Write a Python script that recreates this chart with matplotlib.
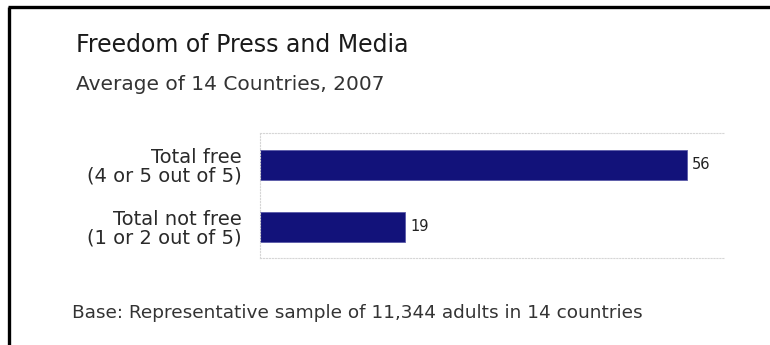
import matplotlib.pyplot as plt
from matplotlib.lines import Line2D

NAVY   = "#12127a"
TEXT_C = "#2a2a2a"
GRID_C = "#d6d6d6"

W, H = 770, 345

TITLE    = "Freedom of Press and Media"
SUBTITLE = "Average of 14 Countries, 2007"
FOOTNOTE = "Base: Representative sample of 11,344 adults in 14 countries"

categories = ["Total free\n(4 or 5 out of 5)", "Total not free\n(1 or 2 out of 5)"]
values     = [56, 19]

plt.rcParams.update({
    "font.family": ["DejaVu Sans"],
    "text.color":  TEXT_C,
})

fig = plt.figure(figsize=(W / 100, H / 100), dpi=100)
fig.patch.set_facecolor("white")

# heavy frame along the top and left edge
fig.add_artist(Line2D([9 / W, 9 / W], [0, 1 - 7 / H], transform=fig.transFigure,
                      color="black", linewidth=2.4, solid_capstyle="butt"))
fig.add_artist(Line2D([8 / W, 1], [1 - 7 / H, 1 - 7 / H], transform=fig.transFigure,
                      color="black", linewidth=2.4, solid_capstyle="butt"))

fig.text(76 / W, 1 - 52 / H, TITLE, fontsize=17, color="#1a1a1a", va="baseline")
fig.text(76 / W, 1 - 90 / H, SUBTITLE, fontsize=14.5, color="#333333", va="baseline")
fig.text(72 / W, 1 - 318 / H, FOOTNOTE, fontsize=13.3, color="#333333", va="baseline")

ax = fig.add_axes([260 / W, 1 - 258 / H, 465 / W, 125 / H])
ypos = list(range(len(values)))
ax.barh(ypos, values, height=0.48, color=NAVY, edgecolor="#5a5aa8", linewidth=0.6)

for y, v in zip(ypos, values):
    ax.text(v + 0.7, y, f"{v}", va="center", ha="left", fontsize=10.5, color="#222222")

ax.set_xlim(0, 61)
ax.set_ylim(1.5, -0.516)
ax.set_yticks(ypos)
ax.set_yticklabels(categories, fontsize=14, color=TEXT_C,
                   multialignment="right", linespacing=0.95)
ax.tick_params(axis="y", length=0, pad=13)
ax.set_xticks([])

for side in ["top", "bottom", "left"]:
    ax.spines[side].set_color(GRID_C)
    ax.spines[side].set_linestyle(":")
    ax.spines[side].set_linewidth(0.8)
ax.spines["right"].set_visible(False)

fig.savefig("out.png", dpi=100, facecolor="white")
